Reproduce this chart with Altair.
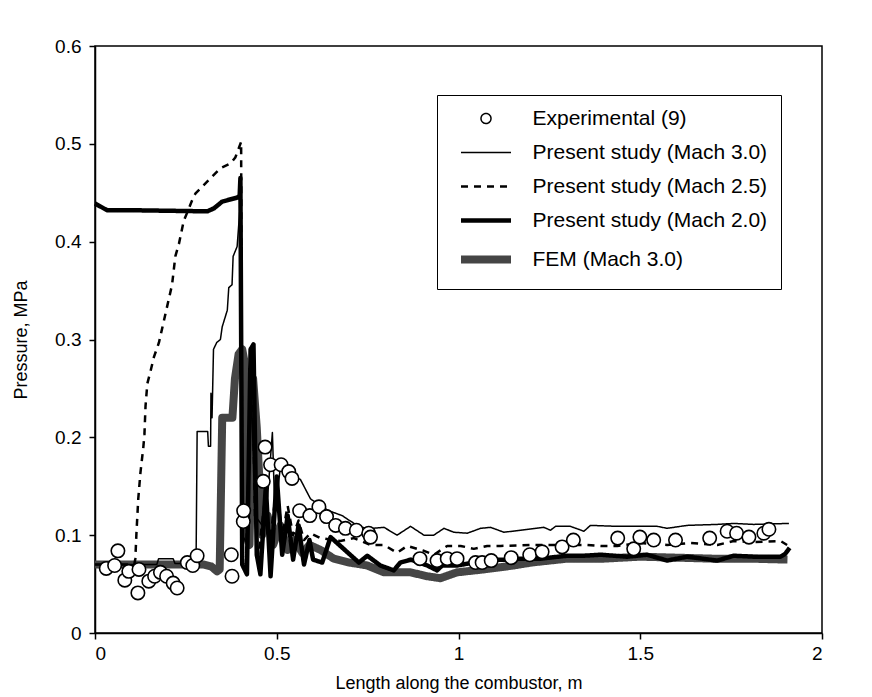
import altair as alt
import pandas as pd

FONT = "Liberation Sans, Arial, Helvetica, sans-serif"

series_names = [
    "Experimental (9)",
    "Present study (Mach 3.0)",
    "Present study (Mach 2.5)",
    "Present study (Mach 2.0)",
    "FEM (Mach 3.0)",
]

x_ticks = [0, 0.5, 1, 1.5, 2]
y_ticks = [0, 0.1, 0.2, 0.3, 0.4, 0.5, 0.6]

# Experimental data (9)
exp_x = [0.031, 0.054, 0.063, 0.082, 0.093, 0.118, 0.121, 0.148, 0.164, 0.180,
         0.197, 0.215, 0.226, 0.254, 0.269, 0.281, 0.375, 0.377, 0.408, 0.409,
         0.463, 0.468, 0.483, 0.512, 0.533, 0.542, 0.563, 0.591, 0.616, 0.637,
         0.662, 0.689, 0.719, 0.753, 0.758, 0.894, 0.941, 0.969, 0.996, 1.047,
         1.065, 1.090, 1.145, 1.196, 1.230, 1.285, 1.316, 1.438, 1.482, 1.499,
         1.537, 1.597, 1.691, 1.739, 1.765, 1.799, 1.840, 1.854]
exp_y = [0.066, 0.069, 0.084, 0.054, 0.063, 0.041, 0.065, 0.053, 0.058, 0.062,
         0.058, 0.051, 0.046, 0.072, 0.069, 0.079, 0.080, 0.058, 0.114, 0.125,
         0.155, 0.190, 0.172, 0.172, 0.165, 0.158, 0.125, 0.120, 0.129, 0.119,
         0.110, 0.107, 0.105, 0.102, 0.098, 0.076, 0.074, 0.076, 0.076, 0.072,
         0.072, 0.074, 0.077, 0.080, 0.083, 0.088, 0.095, 0.097, 0.086, 0.098,
         0.095, 0.095, 0.097, 0.104, 0.102, 0.098, 0.102, 0.106]

# Present study (Mach 3.0) - thin solid
m30_x = [0.0, 0.17, 0.175, 0.215, 0.22, 0.278, 0.281, 0.31, 0.312, 0.318,
         0.319, 0.322, 0.326, 0.335, 0.345, 0.35, 0.364, 0.368, 0.377, 0.38,
         0.391, 0.40, 0.405, 0.42, 0.43, 0.44, 0.46, 0.475, 0.488, 0.495,
         0.51, 0.525, 0.545, 0.565, 0.593, 0.643, 0.68, 0.70, 0.73, 0.763,
         0.795, 0.831, 0.868, 0.905, 0.932, 0.96, 0.987, 1.024, 1.061, 1.088,
         1.125, 1.171, 1.235, 1.253, 1.267, 1.308, 1.345, 1.363, 1.437, 1.547,
         1.574, 1.629, 1.712, 1.757, 1.812, 1.909]
m30_y = [0.070, 0.070, 0.076, 0.076, 0.071, 0.071, 0.206, 0.206, 0.191, 0.191,
         0.245, 0.220, 0.290, 0.297, 0.300, 0.313, 0.330, 0.353, 0.356, 0.385,
         0.395, 0.440, 0.100, 0.090, 0.250, 0.120, 0.110, 0.140, 0.205, 0.120,
         0.170, 0.165, 0.160, 0.157, 0.137, 0.125, 0.120, 0.115, 0.108, 0.107,
         0.108, 0.100, 0.109, 0.100, 0.100, 0.107, 0.103, 0.102, 0.107, 0.108,
         0.103, 0.105, 0.108, 0.105, 0.109, 0.109, 0.104, 0.110, 0.109, 0.109,
         0.107, 0.110, 0.111, 0.112, 0.111, 0.112]

# Present study (Mach 2.5) - dashed
m25_x = [0.0, 0.108, 0.111, 0.114, 0.119, 0.125, 0.133, 0.136, 0.139, 0.144,
         0.153, 0.162, 0.176, 0.212, 0.221, 0.231, 0.244, 0.255, 0.267, 0.276,
         0.318, 0.345, 0.373, 0.386, 0.396, 0.402, 0.405, 0.415, 0.425, 0.432,
         0.44, 0.45, 0.465, 0.48, 0.50, 0.515, 0.53, 0.545, 0.56, 0.575,
         0.593, 0.62, 0.675, 0.712, 0.758, 0.795, 0.831, 0.859, 0.905, 0.932,
         0.969, 1.006, 1.042, 1.079, 1.116, 1.207, 1.262, 1.354, 1.391, 1.437,
         1.501, 1.574, 1.638, 1.712, 1.757, 1.812, 1.886, 1.904]
m25_y = [0.070, 0.070, 0.076, 0.102, 0.137, 0.164, 0.190, 0.203, 0.232, 0.255,
         0.268, 0.282, 0.297, 0.356, 0.385, 0.398, 0.421, 0.431, 0.442, 0.449,
         0.465, 0.475, 0.480, 0.486, 0.496, 0.502, 0.080, 0.070, 0.200, 0.290,
         0.120, 0.080, 0.130, 0.090, 0.150, 0.100, 0.130, 0.100, 0.115, 0.095,
         0.102, 0.097, 0.094, 0.097, 0.090, 0.090, 0.082, 0.089, 0.084, 0.080,
         0.089, 0.089, 0.086, 0.089, 0.089, 0.090, 0.090, 0.090, 0.089, 0.089,
         0.092, 0.090, 0.092, 0.090, 0.094, 0.093, 0.094, 0.090]

# Present study (Mach 2.0) - thick solid
m20_x = [0.0, 0.034, 0.125, 0.309, 0.327, 0.35, 0.391, 0.398, 0.400, 0.405,
         0.418, 0.428, 0.436, 0.445, 0.455, 0.47, 0.483, 0.50, 0.515, 0.53,
         0.545, 0.56, 0.575, 0.59, 0.60, 0.625, 0.648, 0.684, 0.726, 0.749,
         0.785, 0.822, 0.840, 0.869, 0.914, 0.941, 0.955, 0.996, 1.042, 1.097,
         1.152, 1.161, 1.226, 1.299, 1.345, 1.391, 1.464, 1.519, 1.574, 1.629,
         1.712, 1.757, 1.812, 1.886, 1.899, 1.911]
m20_y = [0.439, 0.432, 0.432, 0.431, 0.434, 0.441, 0.445, 0.447, 0.465, 0.070,
         0.060, 0.290, 0.295, 0.080, 0.060, 0.150, 0.058, 0.160, 0.080, 0.120,
         0.075, 0.110, 0.070, 0.095, 0.075, 0.072, 0.098, 0.086, 0.072, 0.079,
         0.069, 0.064, 0.072, 0.075, 0.069, 0.064, 0.069, 0.069, 0.072, 0.075,
         0.075, 0.076, 0.076, 0.079, 0.079, 0.080, 0.078, 0.080, 0.074, 0.078,
         0.074, 0.079, 0.078, 0.078, 0.081, 0.087]

# FEM (Mach 3.0) - thick grey
fem_x = [0.0, 0.30, 0.32, 0.336, 0.343, 0.350, 0.378, 0.385, 0.395, 0.405,
         0.41, 0.415, 0.425, 0.435, 0.445, 0.46, 0.475, 0.49, 0.51, 0.53,
         0.55, 0.57, 0.59, 0.62, 0.657, 0.70, 0.749, 0.795, 0.868, 0.914,
         0.95, 0.996, 1.07, 1.152, 1.2, 1.3, 1.4, 1.5, 1.6, 1.7,
         1.8, 1.905]
fem_y = [0.070, 0.070, 0.068, 0.063, 0.065, 0.220, 0.220, 0.260, 0.285, 0.290,
         0.280, 0.100, 0.090, 0.260, 0.210, 0.100, 0.120, 0.090, 0.110, 0.085,
         0.095, 0.082, 0.090, 0.085, 0.076, 0.072, 0.069, 0.062, 0.062, 0.058,
         0.056, 0.062, 0.065, 0.069, 0.072, 0.076, 0.076, 0.078, 0.077, 0.076,
         0.076, 0.075]

# legend styling per series
series_colors = ["black", "black", "black", "black", "#454545"]
series_widths = [1.5, 1.5, 2.5, 4.5, 8]
series_dashes = [[1, 0], [1, 0], [7, 6], [1, 0], [1, 0]]
series_shapes = ["circle", "M-5,0L5,0", "M-5,0L5,0", "M-5,0L5,0", "M-5,0L5,0"]


def frame(xs, ys):
    return pd.DataFrame({"x": xs, "y": ys, "i": list(range(len(xs)))})


xscale = alt.Scale(domain=[0, 2], nice=False, zero=False)
yscale = alt.Scale(domain=[0, 0.6], nice=False, zero=False)

xenc = alt.X("x:Q", scale=xscale,
             axis=alt.Axis(values=x_ticks, format="~g",
                           title="Length along the combustor, m"))
yenc = alt.Y("y:Q", scale=yscale,
             axis=alt.Axis(values=y_ticks,
                           labelExpr="datum.value == 0 ? '0' : format(datum.value, '.1f')",
                           title="Pressure, MPa"))


def line_layer(xs, ys, color, width, dash):
    return alt.Chart(frame(xs, ys)).mark_line(
        color=color, strokeWidth=width, strokeDash=dash,
        strokeJoin="round", strokeCap="butt"
    ).encode(x=xenc, y=yenc, order="i:Q")


fem = line_layer(fem_x, fem_y, "#454545", 8, [1, 0])
m20 = line_layer(m20_x, m20_y, "black", 4.5, [1, 0])
m25 = line_layer(m25_x, m25_y, "black", 2.5, [7, 6])
m30 = line_layer(m30_x, m30_y, "black", 1.5, [1, 0])

exp = alt.Chart(frame(exp_x, exp_y)).mark_point(
    shape="circle", filled=True, fill="white", stroke="black",
    strokeWidth=1.6, size=180, opacity=1
).encode(x=xenc, y=yenc)

leg = alt.Legend(title=None)
legend_layer = alt.Chart(pd.DataFrame({"series": series_names})).transform_filter(
    "false"
).mark_point(opacity=1, size=100, filled=False).encode(
    color=alt.Color("series:N", scale=alt.Scale(domain=series_names, range=series_colors), legend=leg),
    shape=alt.Shape("series:N", scale=alt.Scale(domain=series_names, range=series_shapes), legend=leg),
    strokeDash=alt.StrokeDash("series:N", scale=alt.Scale(type="ordinal", domain=series_names, range=series_dashes), legend=leg),
    strokeWidth=alt.StrokeWidth("series:N", scale=alt.Scale(type="ordinal", domain=series_names, range=series_widths), legend=leg),
)

chart = alt.layer(fem, m20, m25, m30, exp, legend_layer).properties(
    width=727, height=587,
    autosize="none",
    padding={"left": 95, "top": 46, "right": 50, "bottom": 64},
    background="white",
).configure_view(
    stroke="black", strokeWidth=1.5
).configure_axis(
    grid=False,
    labelFont=FONT, labelFontSize=19, labelColor="black",
    titleFont=FONT, titleFontSize=18, titleFontWeight="normal", titleColor="black",
    domainColor="black", domainWidth=1.5,
    tickColor="black", tickWidth=1.5, tickSize=6,
).configure_axisY(
    labelPadding=8, titlePadding=24,
).configure_axisX(
    labelPadding=5, titlePadding=11,
).configure_legend(
    orient="none", legendX=342, legendY=49,
    padding=13, strokeColor="black", fillColor="white",
    labelFont=FONT, labelFontSize=21, labelColor="black", labelLimit=500,
    symbolSize=100, symbolOffset=25.5, labelOffset=36, rowPadding=12,
    symbolFillColor="white",
)

chart.save("out.html", embed_options={"renderer": "svg", "actions": False})
